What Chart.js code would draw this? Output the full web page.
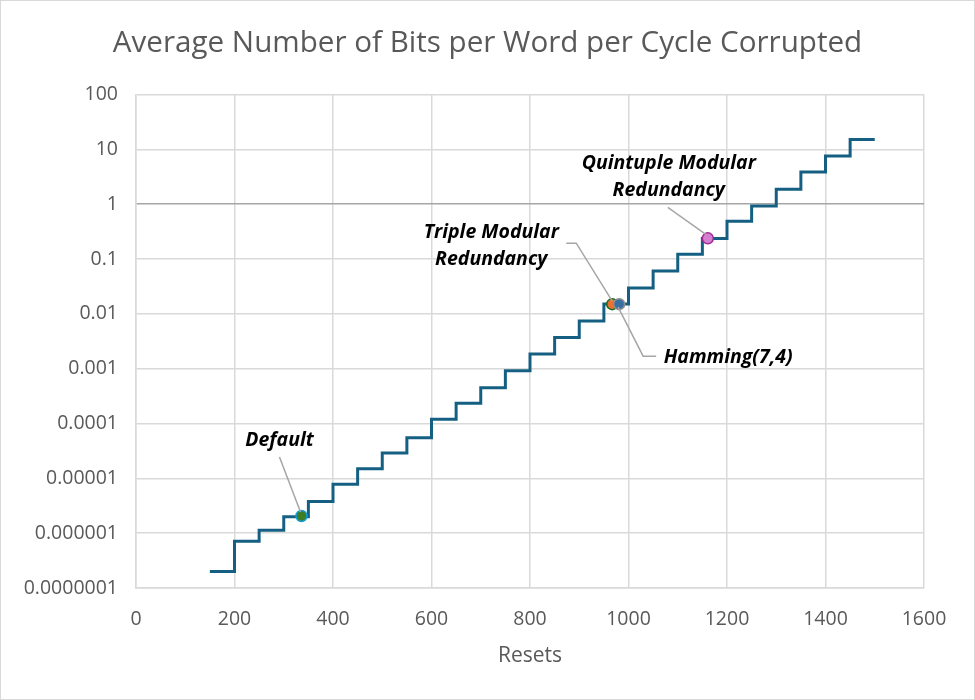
<!DOCTYPE html>
<html>
<head>
<meta charset="utf-8">
<script src="https://cdn.jsdelivr.net/npm/chart.js@4.4.1/dist/chart.umd.min.js"></script>
<style>
  body { margin: 0; background: #fff; }
  #wrap { width: 975px; height: 700px; }
</style>
</head>
<body>
<div id="wrap"><canvas id="chart" width="975" height="700"></canvas></div>
<script>
// step curve: resets vs average bits corrupted
const resets = [150, 200, 250, 300, 350, 400, 450, 500, 550, 600, 650, 700, 750, 800,
  850, 900, 950, 1000, 1050, 1100, 1150, 1200, 1250, 1300, 1350, 1400, 1450, 1500];
const bitsCorrupted = [2.0e-7, 7.1e-7, 1.13e-6, 2.0e-6, 3.8e-6, 7.8e-6, 1.5e-5, 2.9e-5,
  5.5e-5, 1.2e-4, 2.35e-4, 4.5e-4, 9.2e-4, 1.85e-3, 3.7e-3, 7.4e-3, 0.0151, 0.0296,
  0.0604, 0.122, 0.237, 0.487, 0.925, 1.87, 3.85, 7.55, 15.2, 15.2];

// highlighted schemes
const markerNames = ["Default", "Triple Modular\nRedundancy", "Hamming(7,4)", "Quintuple Modular\nRedundancy"];
const markerResets = [336, 967, 981, 1161];
const markerValues = [2.06e-6, 0.0150, 0.0150, 0.238];

const yTicks = [1e-7, 1e-6, 1e-5, 1e-4, 1e-3, 1e-2, 1e-1, 1, 10, 100];
const yTickLabels = ["0.0000001", "0.000001", "0.00001", "0.0001", "0.001", "0.01", "0.1", "1", "10", "100"];

const markerFill = ["#3e7d22", "#e97132", "#3b6fa3", "#d57fd1"];
const markerEdge = ["#0f9ed5", "#196b24", "#8f8f8f", "#a02b93"];

// callout placement, pixel offsets from the marker
const callouts = [
  { text: [-22, -76], leader: [[-22, -59], [-1, -4]] },
  { text: [-121, -72], leader: [[-46, -61], [-36, -61], [0, -3]] },
  { text: [109, 53], leader: [[37, 52], [24, 52], [-1, 3]] },
  { text: [-39, -75], leader: [[-40, -31], [-2, -4]] },
];

const FONT = "'Open Sans', 'Liberation Sans', sans-serif";

const calloutPlugin = {
  id: "callouts",
  afterDatasetsDraw(chart) {
    const ctx = chart.ctx;
    const xs = chart.scales.x, ys = chart.scales.y;
    ctx.save();
    callouts.forEach((c, i) => {
      const px = xs.getPixelForValue(markerResets[i]);
      const py = ys.getPixelForValue(markerValues[i]);
      ctx.strokeStyle = "#a6a6a6";
      ctx.lineWidth = 1.5;
      ctx.beginPath();
      c.leader.forEach((p, k) => {
        if (k === 0) ctx.moveTo(px + p[0], py + p[1]);
        else ctx.lineTo(px + p[0], py + p[1]);
      });
      ctx.stroke();
      const lines = markerNames[i].split("\n");
      ctx.fillStyle = "#000";
      ctx.font = "italic bold 19.5px " + FONT;
      ctx.textAlign = "center";
      ctx.textBaseline = "middle";
      lines.forEach((t, k) => {
        ctx.fillText(t, px + c.text[0], py + c.text[1] + k * 27);
      });
    });
    ctx.restore();
  },
};

const framePlugin = {
  id: "frame",
  afterDraw(chart) {
    const ctx = chart.ctx;
    ctx.save();
    ctx.strokeStyle = "#d9d9d9";
    ctx.lineWidth = 1;
    ctx.strokeRect(0.5, 0.5, chart.width - 1, chart.height - 1);
    ctx.restore();
  },
};

const markerSets = markerNames.map((name, i) => ({
  label: name,
  data: [{ x: markerResets[i], y: markerValues[i] }],
  backgroundColor: markerFill[i],
  borderColor: markerEdge[i],
  borderWidth: 1.5,
  pointRadius: 5.5,
  showLine: false,
  order: i === 1 ? 2 : 1,
}));

new Chart(document.getElementById("chart"), {
  type: "scatter",
  data: {
    datasets: [
      ...markerSets,
      {
        label: "Bits corrupted",
        data: resets.map((r, i) => ({ x: r, y: bitsCorrupted[i] })),
        showLine: true,
        stepped: "before",
        borderColor: "#156082",
        borderWidth: 3,
        pointRadius: 0,
        order: 5,
      },
    ],
  },
  options: {
    responsive: false,
    animation: false,
    layout: { padding: { left: 0, right: 0, top: 0, bottom: 33.5 } },
    plugins: {
      legend: { display: false },
      tooltip: { enabled: false },
      title: {
        display: true,
        text: "Average Number of Bits per Word per Cycle Corrupted",
        color: "#595959",
        font: { family: FONT, size: 29.6, weight: "normal" },
        padding: { top: 26, bottom: 33 },
      },
    },
    scales: {
      x: {
        type: "linear",
        min: 0,
        max: 1600,
        ticks: {
          stepSize: 200,
          color: "#595959",
          font: { family: FONT, size: 19.5, lineHeight: 1 },
          padding: 21.5,
          callback: (v) => String(v),
        },
        grid: { color: "#d9d9d9", lineWidth: 1.5, drawTicks: false },
        border: { color: "#d9d9d9", width: 1.5 },
        title: {
          display: true,
          text: "Resets",
          color: "#595959",
          font: { family: FONT, size: 21, lineHeight: 1 },
          padding: { top: -5, bottom: 0 },
        },
      },
      y: {
        type: "logarithmic",
        min: 1e-7,
        max: 100,
        afterBuildTicks(scale) {
          scale.ticks = yTicks.map((v) => ({ value: v }));
        },
        afterFit(scale) {
          scale.width = 136;
        },
        ticks: {
          color: "#595959",
          font: { family: FONT, size: 19.5 },
          padding: 18,
          autoSkip: false,
          callback: (v, i) => yTickLabels[i],
        },
        grid: {
          color: (c) => (c.tick && c.tick.value === 1 ? "#a6a6a6" : "#d9d9d9"),
          lineWidth: 1.5,
          drawTicks: false,
        },
        border: { color: "#d9d9d9", width: 1.5 },
      },
      // empty right-hand box so the plot ends where the reference does
      spacer: {
        type: "linear",
        position: "right",
        grid: { display: false },
        border: { display: false },
        ticks: { display: false },
        afterFit(scale) {
          scale.width = 51;
        },
      },
    },
  },
  plugins: [calloutPlugin, framePlugin],
});
</script>
</body>
</html>
